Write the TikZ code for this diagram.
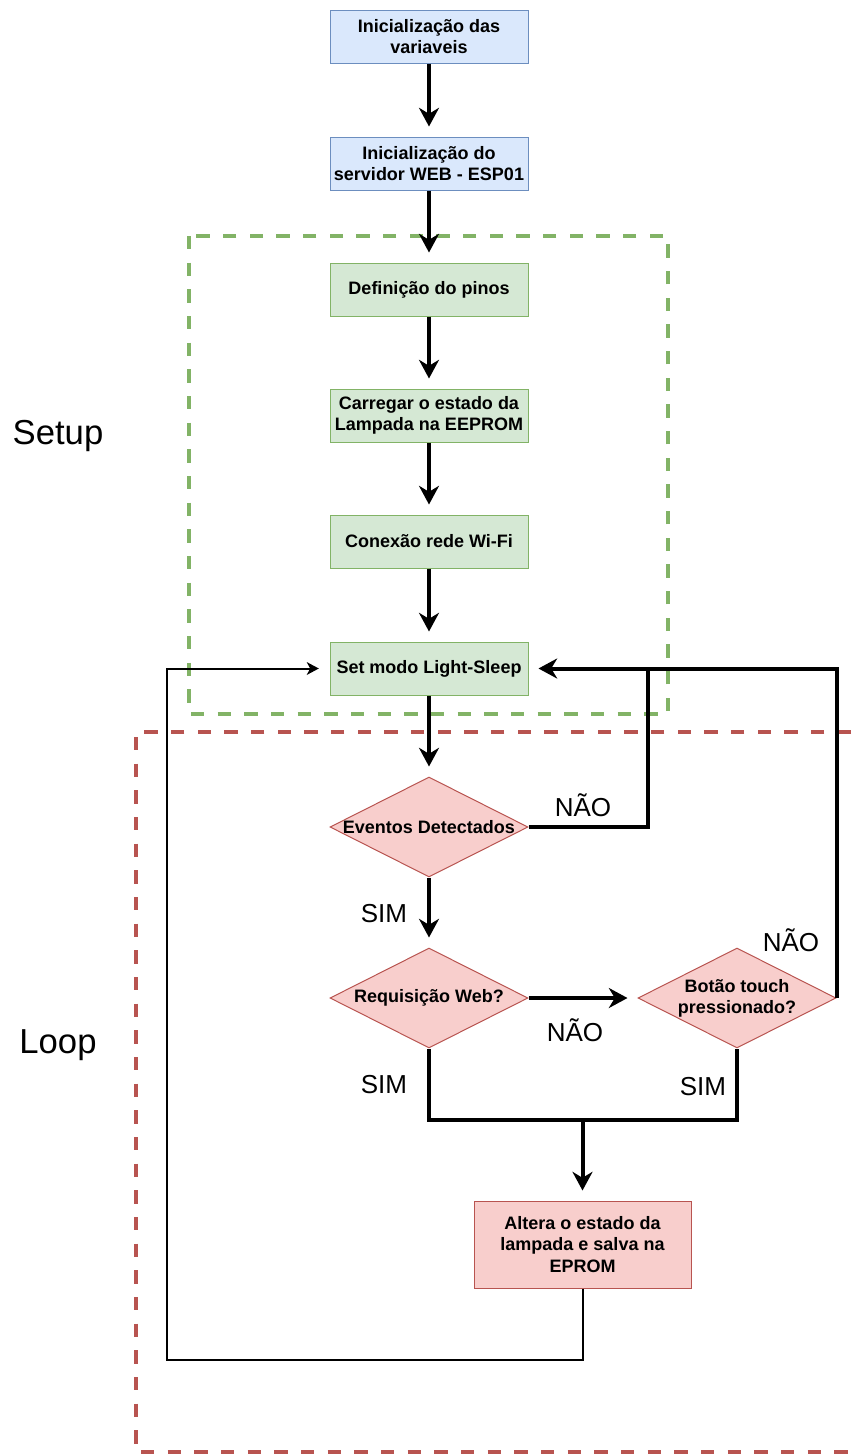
\documentclass[tikz,border=0pt]{standalone}
\usepackage{fontspec}
\setmainfont{Liberation Sans}
\usetikzlibrary{arrows.meta,shapes.geometric}
\definecolor{bluefill}{HTML}{DAE8FC}
\definecolor{blueline}{HTML}{6C8EBF}
\definecolor{greenfill}{HTML}{D5E8D4}
\definecolor{greenline}{HTML}{82B366}
\definecolor{redfill}{HTML}{F8CECC}
\definecolor{redline}{HTML}{B85450}
\tikzset{
  boxtxt/.style={font=\fontsize{13.5}{16}\selectfont\bfseries, align=center},
  procbox/.style={rectangle, draw, line width=0.75pt, minimum width=148.5pt, minimum height=39.75pt, inner sep=0pt, boxtxt},
  bluebox/.style={procbox, fill=bluefill, draw=blueline},
  greenbox/.style={procbox, fill=greenfill, draw=greenline},
  redbox/.style={procbox, fill=redfill, draw=redline, minimum width=162.75pt, minimum height=65.25pt},
  dia/.style={diamond, draw=redline, fill=redfill, line width=0.75pt, minimum width=148.5pt, minimum height=75pt, inner sep=0pt},
  diatext/.style={boxtxt, inner sep=0pt},
  lbl/.style={font=\fontsize{19.5}{22}\selectfont},
  biglbl/.style={font=\fontsize{26}{30}\selectfont},
  thickarrow/.style={line width=3pt, -{Stealth[length=14pt,width=15pt,inset=4.5pt]}, shorten >=7.5pt},
  thickline/.style={line width=3pt},
  thinarrow/.style={line width=1.5pt, -{Stealth[length=9pt,width=9.5pt,inset=2.5pt]}, shorten >=8pt},
  groupbox/.style={line width=3pt, dash pattern=on 10pt off 10pt}
}
\begin{document}
\begin{tikzpicture}[x=0.75pt,y=-0.75pt]
\useasboundingbox (0,0) rectangle (851,1454);
% group frames
\draw[groupbox, draw=greenline] (189,236) rectangle (668,714);
\draw[groupbox, draw=redline] (851,732) -- (136,732) -- (136,1452) -- (851,1452);
\node[biglbl] (setup) at (58,436) {Setup};
\node[biglbl] (loop) at (58,1045) {Loop};
% nodes
\node[bluebox] (b1) at (429,36.5) {Inicialização das\\variaveis};
\node[bluebox] (b2) at (429,163.5) {Inicialização do\\servidor WEB - ESP01};
\node[greenbox] (b3) at (429,289.5) {Definição do pinos};
\node[greenbox] (b4) at (429,415.5) {Carregar o estado da\\Lampada na EEPROM};
\node[greenbox] (b5) at (429,541.5) {Conexão rede Wi-Fi};
\node[greenbox] (b6) at (429,668.5) {Set modo Light-Sleep};
\node[dia] (d1) at (429,827) {};
\node[diatext] (d1t) at (d1) {Eventos Detectados};
\node[dia] (d2) at (429,998) {};
\node[diatext] (d2t) at (d2) {Requisição Web?};
\node[dia] (d3) at (737,998) {};
\node[diatext] (d3t) at (d3) {Botão touch\\pressionado?};
\node[redbox] (b7) at (582.5,1244.5) {Altera o estado da\\lampada e salva na\\EPROM};
% helper coordinates
\coordinate (j1) at (648,668.5);
\coordinate (m) at (582.5,1120);
\coordinate (l1) at (167,1360);
% connectors
\draw[thickarrow] (b1) -- (b2);
\draw[thickarrow] (b2) -- (b3);
\draw[thickarrow] (b3) -- (b4);
\draw[thickarrow] (b4) -- (b5);
\draw[thickarrow] (b5) -- (b6);
\draw[thickarrow] (b6) -- (d1);
\draw[thickarrow] (d1.east) -| (j1) -- (b6.east);
\draw[thickline] (d3.east) |- (j1);
\draw[thickarrow] (d1) -- (d2);
\draw[thickarrow] (d2.east) -- (d3.west);
\draw[thickline] (d2.south) |- (m) -| (d3.south);
\draw[thickarrow] (m) -- (b7.north);
\draw[thinarrow] (b7.south) |- (l1) |- (b6.west);
% labels
\node[lbl] (n1) at (583,805) {NÃO};
\node[lbl] (s1) at (384,914) {SIM};
\node[lbl] (n2) at (791,940) {NÃO};
\node[lbl] (n3) at (575,1030) {NÃO};
\node[lbl] (s2) at (384,1085) {SIM};
\node[lbl] (s3) at (703,1087) {SIM};
\end{tikzpicture}
\end{document}
